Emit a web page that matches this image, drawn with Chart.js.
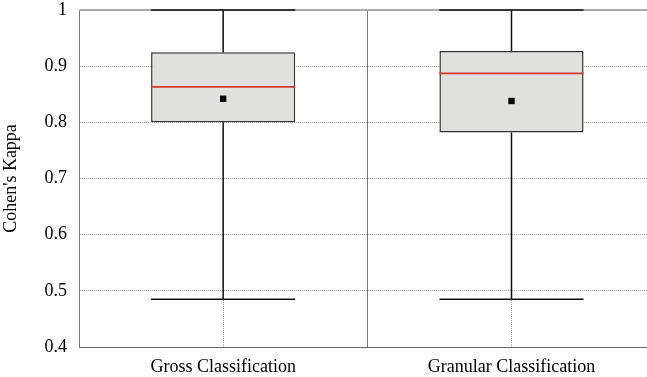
<!DOCTYPE html>
<html lang="en">
<head>
<meta charset="UTF-8">
<title>Cohen's Kappa</title>
<script src="https://cdn.jsdelivr.net/npm/chart.js"></script>
<style>
    html, body { margin: 0; padding: 0; background: #fff; overflow: hidden; }
    #wrap { width: 647px; height: 377px; }
</style>
</head>
<body>
<div id="wrap"><canvas id="kappaChart" width="647" height="377"></canvas></div>
<script>
    const categories = ['Gross Classification', 'Granular Classification'];
    const whiskerLow = [0.485, 0.485];
    const q1 = [0.800, 0.782];
    const median = [0.863, 0.887];
    const q3 = [0.925, 0.927];
    const whiskerHigh = [1.0, 1.0];
    const means = [0.842, 0.838];

    const serif = "'Liberation Serif', 'DejaVu Serif', serif";

    // whiskers, median lines and the extra grid lines, all placed through the scales
    const boxExtras = {
        id: 'boxExtras',
        beforeDatasetsDraw(chart) {
            const { ctx, chartArea, scales: { x, y } } = chart;
            ctx.save();
            // dotted verticals at category centres
            ctx.strokeStyle = '#aaa';
            ctx.lineWidth = 1;
            ctx.setLineDash([1, 1]);
            categories.forEach((c, i) => {
                const px = Math.round(x.getPixelForValue(i)) + 0.5;
                ctx.beginPath();
                ctx.moveTo(px, chartArea.top);
                ctx.lineTo(px, chartArea.bottom);
                ctx.stroke();
            });
            ctx.setLineDash([]);
            // solid separator between categories
            ctx.strokeStyle = '#777';
            const sep = Math.round(x.getPixelForValue(0.5)) + 0.5;
            ctx.beginPath();
            ctx.moveTo(sep, chartArea.top);
            ctx.lineTo(sep, chartArea.bottom);
            ctx.stroke();
            // top frame line at 1
            ctx.strokeStyle = '#aaa';
            ctx.lineWidth = 2;
            const top = y.getPixelForValue(1);
            ctx.beginPath();
            ctx.moveTo(chartArea.left, top);
            ctx.lineTo(chartArea.right, top);
            ctx.stroke();

            // whiskers
            const meta = chart.getDatasetMeta(0);
            ctx.strokeStyle = '#111';
            ctx.lineWidth = 1.5;
            categories.forEach((c, i) => {
                const bar = meta.data[i];
                const half = bar.width / 2;
                const cx = bar.x;
                const lo = y.getPixelForValue(whiskerLow[i]);
                const hi = y.getPixelForValue(whiskerHigh[i]);
                ctx.beginPath();
                ctx.moveTo(cx, lo);
                ctx.lineTo(cx, y.getPixelForValue(q1[i]));
                ctx.moveTo(cx, y.getPixelForValue(q3[i]));
                ctx.lineTo(cx, hi);
                ctx.moveTo(cx - half, lo);
                ctx.lineTo(cx + half, lo);
                ctx.moveTo(cx - half, hi);
                ctx.lineTo(cx + half, hi);
                ctx.stroke();
            });
            ctx.restore();
        },
        afterDatasetsDraw(chart) {
            const { ctx, scales: { y } } = chart;
            const meta = chart.getDatasetMeta(0);
            ctx.save();
            ctx.strokeStyle = '#d9372c';
            ctx.lineWidth = 1.8;
            categories.forEach((c, i) => {
                const bar = meta.data[i];
                const half = bar.width / 2;
                const py = y.getPixelForValue(median[i]);
                ctx.beginPath();
                ctx.moveTo(bar.x - half, py);
                ctx.lineTo(bar.x + half, py);
                ctx.stroke();
            });
            ctx.restore();
        }
    };

    new Chart(document.getElementById('kappaChart').getContext('2d'), {
        type: 'bar',
        data: {
            datasets: [
                {
                    type: 'bar',
                    order: 2,
                    data: categories.map((c, i) => ({ x: i, y: [q1[i], q3[i]] })),
                    backgroundColor: '#e0e0df',
                    borderColor: '#333',
                    borderWidth: 1.5,
                    borderSkipped: false,
                    barPercentage: 0.5,
                    categoryPercentage: 1
                },
                {
                    type: 'scatter',
                    order: 1,
                    data: categories.map((c, i) => ({ x: i, y: means[i] })),
                    pointStyle: 'rect',
                    pointRadius: 4.5,
                    pointBorderWidth: 0,
                    backgroundColor: '#000'
                }
            ]
        },
        options: {
            responsive: false,
            animation: false,
            layout: { autoPadding: false, padding: { top: 10, right: 0, left: 0, bottom: 0 } },
            plugins: { legend: { display: false }, tooltip: { enabled: false } },
            scales: {
                x: {
                    type: 'linear',
                    offset: false,
                    min: -0.5,
                    max: 1.47,
                    afterBuildTicks: (scale) => { scale.ticks = categories.map((c, i) => ({ value: i })); },
                    afterFit: (scale) => { scale.height = 30; },
                    grid: { display: false, offset: false },
                    border: { color: '#666', width: 1 },
                    ticks: {
                        autoSkip: false,
                        maxRotation: 0,
                        padding: 1,
                        color: '#000',
                        font: { family: serif, size: 18 },
                        callback: (v) => categories[v] ?? ''
                    }
                },
                y: {
                    type: 'linear',
                    min: 0.4,
                    max: 1,
                    afterFit: (scale) => {
                        scale.width = 79;
                        scale.paddingTop = 0;
                        scale.paddingBottom = 0;
                    },
                    grid: {
                        drawTicks: false,
                        color: (ctx) => (ctx.tick && (ctx.tick.value <= 0.4 || ctx.tick.value >= 1)) ? 'rgba(0,0,0,0)' : '#aaa'
                    },
                    border: { color: '#777', width: 1, dash: [1, 1] },
                    ticks: {
                        stepSize: 0.1,
                        padding: 12,
                        color: '#000',
                        font: { family: serif, size: 18 },
                        callback: (v) => String(Number(v.toFixed(1)))
                    },
                    title: {
                        display: true,
                        text: "Cohen's Kappa",
                        color: '#000',
                        font: { family: serif, size: 18 },
                        padding: { top: 0, bottom: 0 }
                    }
                }
            }
        },
        plugins: [boxExtras]
    });
</script>
</body>
</html>
